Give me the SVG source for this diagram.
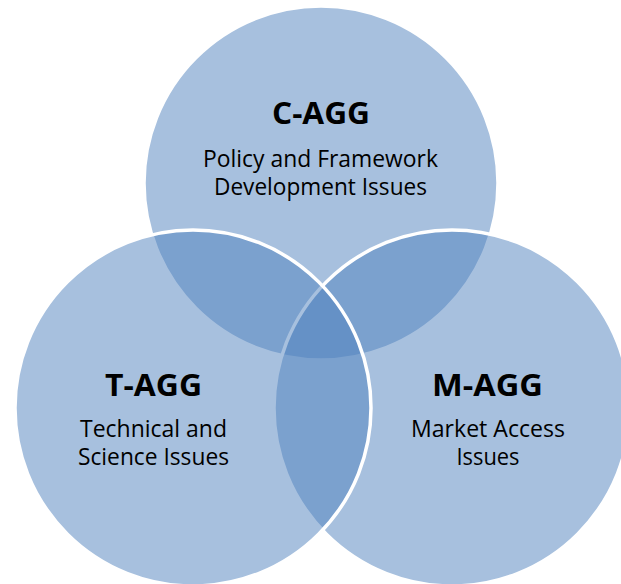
<svg xmlns="http://www.w3.org/2000/svg" width="621" height="584" viewBox="0 0 621 584">
  <style>
    .ring { fill: #4F81BD; fill-opacity: 0.5; stroke: #FFFFFF; stroke-width: 3.5; }
    .title { font-family: "Open Sans", "Liberation Sans", sans-serif; font-weight: bold; font-size: 30px; fill: #000000; text-anchor: middle; }
    .desc { font-family: "Open Sans", "Liberation Sans", sans-serif; font-size: 23px; fill: #000000; text-anchor: middle; }
  </style>
  <rect width="621" height="584" fill="#FFFFFF"/>

  <!-- Top circle: policy group -->
  <g id="c-agg">
    <circle class="ring" cx="321" cy="183" r="177"/>
  </g>

  <!-- Right circle: market access group -->
  <g id="m-agg">
    <circle class="ring" cx="452" cy="408" r="178"/>
  </g>

  <!-- Left circle: technical group -->
  <g id="t-agg">
    <circle class="ring" cx="193" cy="408" r="178"/>
  </g>

  <!-- Labels -->
  <g id="c-agg-label">
    <text class="title" x="321" y="124" textLength="98" lengthAdjust="spacingAndGlyphs">C-AGG</text>
    <text class="desc" x="320.5" y="166.5" textLength="235" lengthAdjust="spacingAndGlyphs">Policy and Framework</text>
    <text class="desc" x="320.5" y="194.5" textLength="213" lengthAdjust="spacingAndGlyphs">Development Issues</text>
  </g>
  <g id="t-agg-label">
    <text class="title" x="153.5" y="396" textLength="97" lengthAdjust="spacingAndGlyphs">T-AGG</text>
    <text class="desc" x="153.5" y="436.5" textLength="147" lengthAdjust="spacingAndGlyphs">Technical and</text>
    <text class="desc" x="153.5" y="464.5" textLength="151" lengthAdjust="spacingAndGlyphs">Science Issues</text>
  </g>
  <g id="m-agg-label">
    <text class="title" x="487.5" y="396" textLength="111" lengthAdjust="spacingAndGlyphs">M-AGG</text>
    <text class="desc" x="488" y="436.5" textLength="154" lengthAdjust="spacingAndGlyphs">Market Access</text>
    <text class="desc" x="488" y="464.5" textLength="63" lengthAdjust="spacingAndGlyphs">Issues</text>
  </g>

  <!-- No connectors in this diagram -->
  <g id="connectors"/>
</svg>
